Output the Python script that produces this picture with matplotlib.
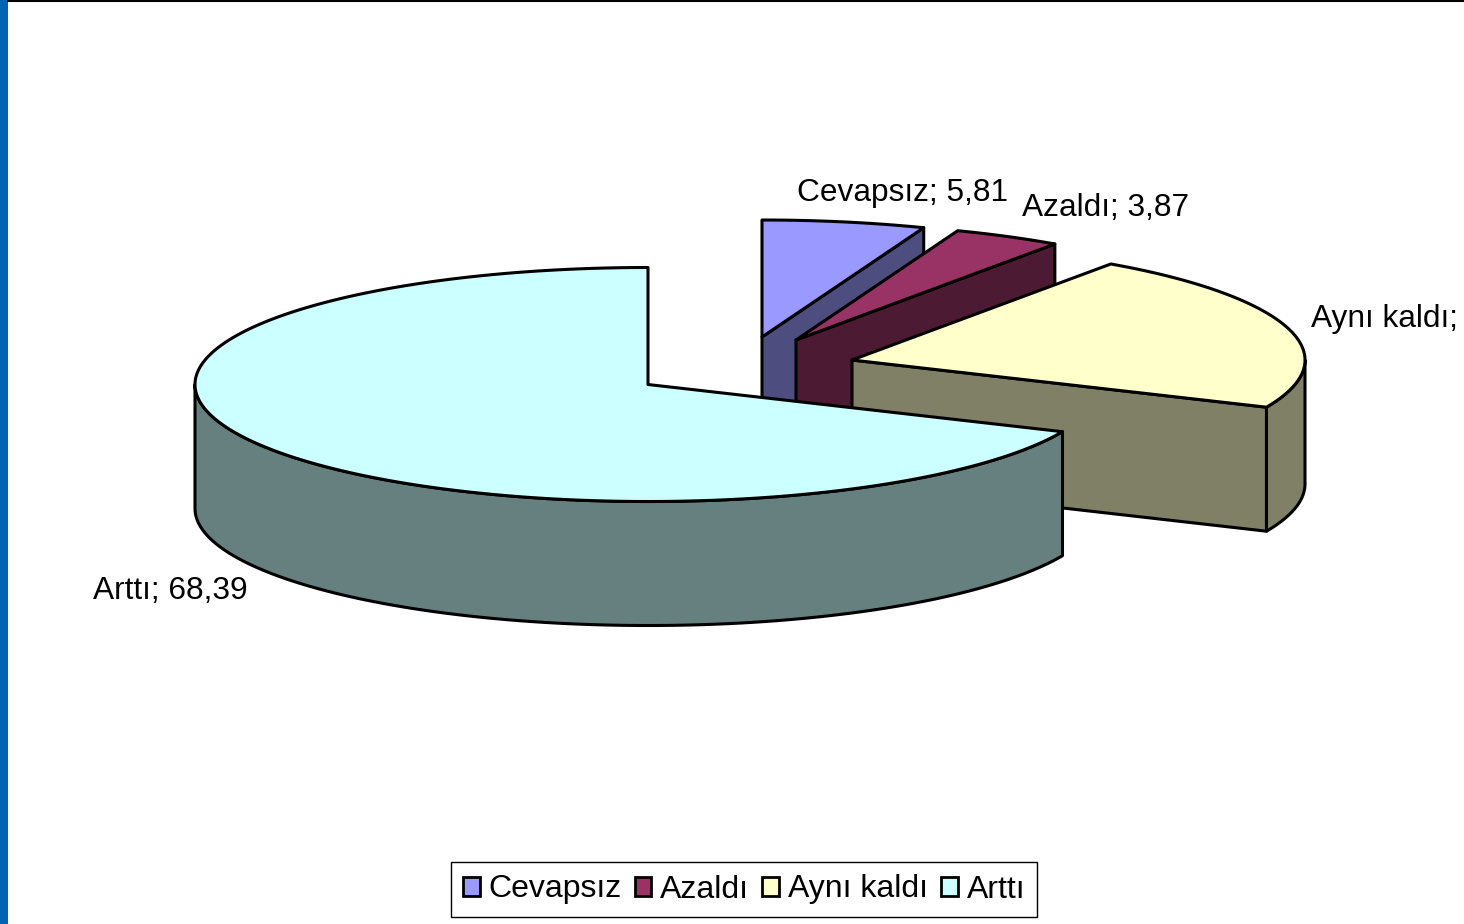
#!/usr/bin/env python3
"""Exploded 3D-look pie, drawn by hand since matplotlib has no such pie."""
import matplotlib
matplotlib.use("Agg")
import matplotlib.pyplot as plt
from matplotlib.patches import Patch, Polygon, Rectangle
import numpy as np

plt.rcParams["font.family"] = ["Liberation Sans", "DejaVu Sans"]

categories = ["Cevapsız", "Azaldı", "Aynı kaldı", "Arttı"]
values = [5.81, 3.87, 21.93, 68.39]
labels = ["Cevapsız; 5,81", "Azaldı; 3,87", "Aynı kaldı;", "Arttı; 68,39"]

top_colors = ["#9999ff", "#993366", "#ffffcc", "#ccffff"]
side_colors = ["#4d4d80", "#4d1a33", "#808066", "#668080"]

# slice centres in pixels (explode offsets are not radial in the original)
centers = [(762, 337), (796, 340), (852, 360), (648, 384.5)]
label_pos = [(797, 193), (1022, 208), (1311, 319), (93, 591)]

RX = 453
RY = 117
DEPTH = 124
LW = 2.2


def rim(center, a0, a1, drop=0.0):
    # angles in degrees, clockwise from 12 o'clock
    t = np.radians(np.linspace(a0, a1, max(2, int(abs(a1 - a0) * 2))))
    return np.column_stack([
        center[0] + RX * np.sin(t),
        center[1] - RY * np.cos(t) + drop,
    ])


def face(ax, pts, color, z):
    ax.add_patch(Polygon(pts, closed=True, facecolor=color, edgecolor="black",
                         linewidth=LW, joinstyle="round", zorder=z))


def draw_slice(ax, center, a0, a1, top, side, z):
    c = np.array(center, dtype=float)
    down = np.array([0, DEPTH])

    # cut face at the end angle, seen only when it turns towards the viewer
    if a1 < 180:
        end = rim(center, a1, a1)[0]
        face(ax, [c, end, end + down, c + down], side, z)

    # outer wall: only the front half of the rim shows
    w0, w1 = max(a0, 90), min(a1, 270)
    if w1 > w0:
        wall = np.vstack([rim(center, w0, w1), rim(center, w1, w0, DEPTH)])
        face(ax, wall, side, z + 0.1)

    face(ax, np.vstack([c, rim(center, a0, a1)]), top, z + 0.2)


def main():
    fig = plt.figure(figsize=(14.64, 9.24), dpi=100)
    ax = fig.add_axes([0, 0, 1, 1])
    ax.set_xlim(0, 1464)
    ax.set_ylim(924, 0)
    ax.axis("off")

    ax.add_patch(Rectangle((0, 0), 8, 924, facecolor="#0066b3", edgecolor="none", zorder=5))
    ax.plot([8, 1464], [0.5, 0.5], color="black", linewidth=1.5, zorder=5)

    angles = np.concatenate([[0], np.cumsum(values)]) * 3.6
    for i in range(len(values)):
        draw_slice(ax, centers[i], angles[i], angles[i + 1],
                   top_colors[i], side_colors[i], z=i + 1)

    for text, pos in zip(labels, label_pos):
        ax.text(pos[0], pos[1], text, fontsize=22.8, color="black",
                ha="left", va="center", zorder=10)

    handles = [Patch(facecolor=t, edgecolor="black", linewidth=2) for t in top_colors]
    ax.legend(handles, categories, loc="center", ncol=4,
              bbox_to_anchor=(744, 889.5), bbox_transform=ax.transData,
              fontsize=23, frameon=True, fancybox=False, framealpha=1,
              edgecolor="black", handlelength=0.53, handleheight=0.53,
              handletextpad=0.28, columnspacing=0.4, borderpad=0.38, borderaxespad=0)

    fig.savefig("out.png", dpi=100)
    plt.close(fig)


if __name__ == "__main__":
    main()
